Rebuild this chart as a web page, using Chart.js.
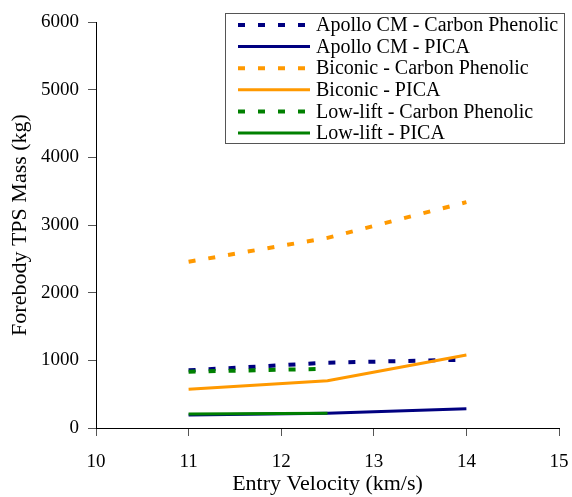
<!DOCTYPE html>
<html>
<head>
<meta charset="utf-8">
<script src="https://cdn.jsdelivr.net/npm/chart.js@4.4.1/dist/chart.umd.min.js"></script>
<style>
  html, body { margin: 0; padding: 0; background: #fff; }
  #wrap { width: 572px; height: 497px; position: relative; }
</style>
</head>
<body>
<div id="wrap"><canvas id="tpsChart"></canvas></div>
<script>
// entry velocities (km/s)
const velocity = [11, 12.5, 14];
const velocityLowLift = [11, 12.5];

// forebody TPS mass (kg)
const apolloCarbon = [852, 965, 1010];
const apolloPica = [192, 217, 285];
const biconicCarbon = [2457, 2810, 3338];
const biconicPica = [571, 699, 1078];
const lowLiftCarbon = [832, 876];
const lowLiftPica = [207, 217];

const xTicks = [10, 11, 12, 13, 14, 15];
const yTicks = [0, 1000, 2000, 3000, 4000, 5000, 6000];

const NAVY = "#000080";
const ORANGE = "#FF9900";
const GREEN = "#008000";
const DASH = [7, 13];
const SERIF = "'Liberation Serif', 'Times New Roman', serif";

function pts(xs, ys) {
  return xs.map((x, i) => ({ x: x, y: ys[i] }));
}

function series(label, xs, ys, color, dashed, order) {
  return {
    label: label,
    data: pts(xs, ys),
    borderColor: color,
    backgroundColor: color,
    borderWidth: dashed ? 4 : 3,
    borderDash: dashed ? DASH : [],
    pointRadius: 0,
    tension: 0,
    fill: false,
    order: order,
  };
}

// legend box drawn inside the plot, like the original
const boxLegend = {
  id: "boxLegend",
  afterDraw(chart) {
    const ctx = chart.ctx;
    const left = 225, top = 13, right = 564, bottom = 143;
    ctx.save();
    ctx.fillStyle = "#fff";
    ctx.fillRect(left, top, right - left, bottom - top);
    ctx.strokeStyle = "#555";
    ctx.lineWidth = 1;
    ctx.setLineDash([]);
    ctx.strokeRect(left + 0.5, top + 0.5, right - left, bottom - top);
    ctx.font = "20px " + SERIF;
    ctx.textBaseline = "middle";
    chart.data.datasets.forEach((ds, i) => {
      const y = 25 + i * 21.6;
      ctx.strokeStyle = ds.borderColor;
      ctx.lineWidth = ds.borderDash.length ? 4 : 3;
      ctx.setLineDash(ds.borderDash);
      ctx.beginPath();
      ctx.moveTo(238, y);
      ctx.lineTo(310, y);
      ctx.stroke();
      ctx.setLineDash([]);
      ctx.fillStyle = "#000";
      ctx.fillText(ds.label, 316, y + 1);
    });
    ctx.restore();
  },
};

new Chart(document.getElementById("tpsChart"), {
  type: "line",
  data: {
    datasets: [
      series("Apollo CM - Carbon Phenolic", velocity, apolloCarbon, NAVY, true, 2),
      series("Apollo CM - PICA", velocity, apolloPica, NAVY, false, 2),
      series("Biconic - Carbon Phenolic", velocity, biconicCarbon, ORANGE, true, 1),
      series("Biconic - PICA", velocity, biconicPica, ORANGE, false, 1),
      series("Low-lift - Carbon Phenolic", velocityLowLift, lowLiftCarbon, GREEN, true, 0),
      series("Low-lift - PICA", velocityLowLift, lowLiftPica, GREEN, false, 0),
    ],
  },
  options: {
    responsive: true,
    maintainAspectRatio: false,
    animation: false,
    layout: { autoPadding: false, padding: { top: 22, right: 13, left: 0, bottom: 5 } },
    plugins: {
      legend: { display: false },
      tooltip: { enabled: false },
    },
    scales: {
      x: {
        type: "linear",
        min: 10,
        max: 15,
        afterBuildTicks: (axis) => {
          axis.ticks = xTicks.map((v) => ({ value: v }));
        },
        afterFit: (axis) => {
          axis.height = 64;
          axis.paddingLeft = 0;
          axis.paddingRight = 0;
        },
        border: { display: true, color: "#000", width: 1 },
        grid: {
          display: true,
          drawOnChartArea: false,
          drawTicks: true,
          tickLength: 8,
          color: "#555",
        },
        ticks: {
          color: "#000",
          font: { family: SERIF, size: 19 },
          padding: 15,
          maxRotation: 0,
          callback: (v) => String(v),
        },
        title: {
          display: true,
          text: "Entry Velocity (km/s)",
          color: "#000",
          font: { family: SERIF, size: 22, lineHeight: 0.75 },
          padding: { top: 0, bottom: 0 },
        },
      },
      y: {
        type: "linear",
        min: 0,
        max: 6000,
        afterBuildTicks: (axis) => {
          axis.ticks = yTicks.map((v) => ({ value: v }));
        },
        afterFit: (axis) => {
          axis.width = 96;
          axis.paddingTop = 0;
          axis.paddingBottom = 0;
        },
        border: { display: true, color: "#000", width: 1 },
        grid: {
          display: true,
          drawOnChartArea: false,
          drawTicks: true,
          tickLength: 8,
          color: "#555",
        },
        ticks: {
          color: "#000",
          font: { family: SERIF, size: 19 },
          padding: 9,
          callback: (v) => String(v),
        },
        title: {
          display: true,
          text: "Forebody TPS Mass (kg)",
          color: "#000",
          font: { family: SERIF, size: 22 },
          padding: { top: 7, bottom: 0 },
        },
      },
    },
  },
  plugins: [boxLegend],
});
</script>
</body>
</html>
